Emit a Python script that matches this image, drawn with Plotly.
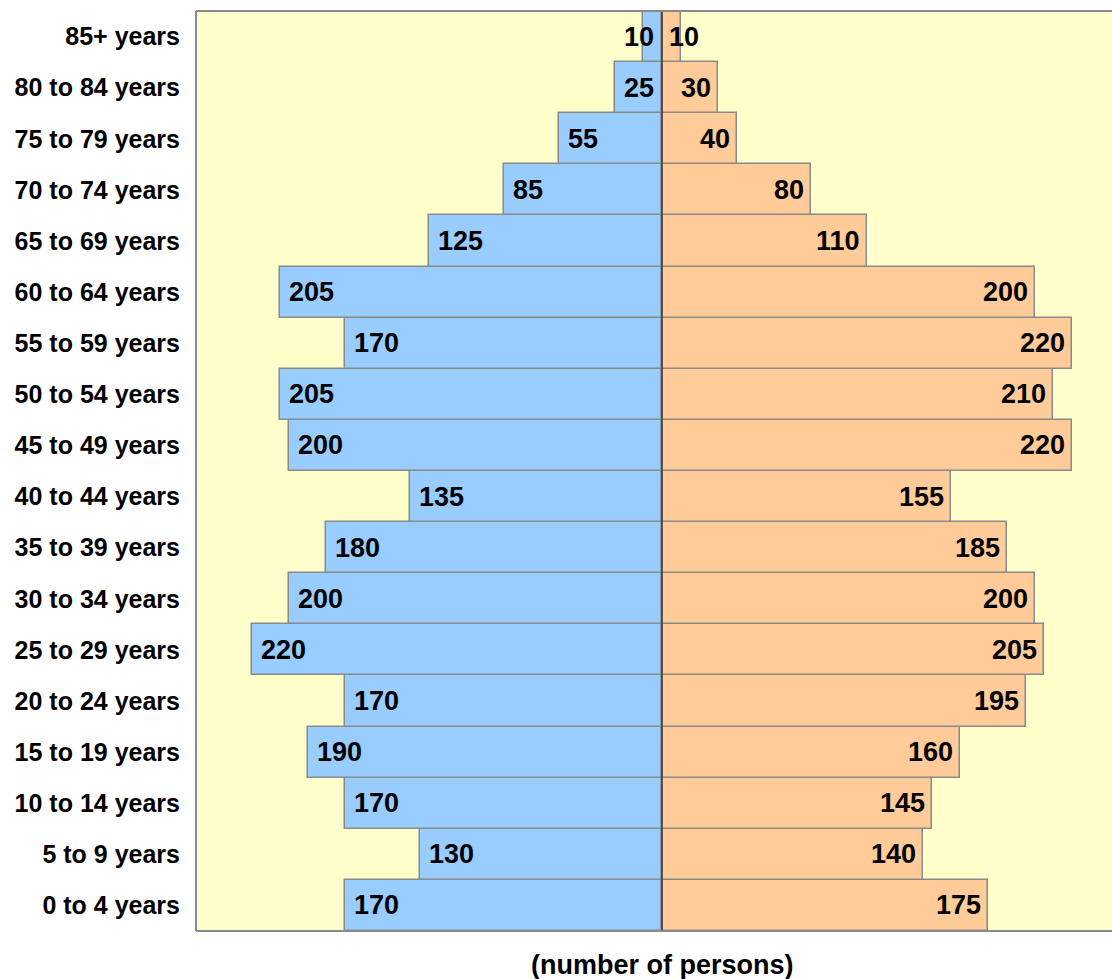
import plotly.graph_objects as go

age_groups = ["0 to 4 years", "5 to 9 years", "10 to 14 years", "15 to 19 years",
              "20 to 24 years", "25 to 29 years", "30 to 34 years", "35 to 39 years",
              "40 to 44 years", "45 to 49 years", "50 to 54 years", "55 to 59 years",
              "60 to 64 years", "65 to 69 years", "70 to 74 years", "75 to 79 years",
              "80 to 84 years", "85+ years"]
male = [170, 130, 170, 190, 170, 220, 200, 180, 135, 200, 205, 170, 205, 125, 85, 55, 25, 10]
female = [175, 140, 145, 160, 195, 205, 200, 185, 155, 220, 210, 220, 200, 110, 80, 40, 30, 10]
x_title = "(number of persons)"

FONT = "Liberation Sans"
OUTLINE = dict(color="#8a8a8a", width=1.5)

fig = go.Figure()
fig.add_trace(go.Bar(y=age_groups, x=[-v for v in male], orientation="h",
                     marker=dict(color="#99ccff", line=OUTLINE), name="Male",
                     hovertext=[str(v) for v in male], hoverinfo="y+text"))
fig.add_trace(go.Bar(y=age_groups, x=female, orientation="h",
                     marker=dict(color="#ffcc99", line=OUTLINE), name="Female",
                     hoverinfo="y+x"))

label_font = dict(family=FONT, size=27, color="black", weight="bold")
annotations = []
for cat, m, f in zip(age_groups, male, female):
    if m < 20:
        annotations.append(dict(x=0, y=cat, xref="x", yref="y", text=str(m),
                                xanchor="right", xshift=-6, showarrow=False, font=label_font))
    else:
        annotations.append(dict(x=-m, y=cat, xref="x", yref="y", text=str(m),
                                xanchor="left", xshift=7, showarrow=False, font=label_font))
    if f < 20:
        annotations.append(dict(x=0, y=cat, xref="x", yref="y", text=str(f),
                                xanchor="left", xshift=5, showarrow=False, font=label_font))
    else:
        annotations.append(dict(x=f, y=cat, xref="x", yref="y", text=str(f),
                                xanchor="right", xshift=-5, showarrow=False, font=label_font))

annotations.append(dict(x=0, y=-0.037, xref="x", yref="paper", text=x_title,
                        xanchor="center", yanchor="middle", showarrow=False,
                        font=dict(family=FONT, size=27, color="black", weight="bold")))

shapes = [
    dict(type="line", xref="x", yref="paper", x0=0, x1=0, y0=0, y1=1,
         line=dict(color="#333333", width=1.5), layer="above"),
    dict(type="line", xref="paper", yref="paper", x0=0, x1=0, y0=0, y1=1,
         line=dict(color="#8a8a8a", width=2), layer="above"),
    dict(type="line", xref="paper", yref="paper", x0=0, x1=1, y0=1, y1=1,
         line=dict(color="#8a8a8a", width=2), layer="above"),
    dict(type="line", xref="paper", yref="paper", x0=0, x1=1, y0=0, y1=0,
         line=dict(color="#8a8a8a", width=2), layer="above"),
]

fig.update_layout(
    width=1112, height=979,
    margin=dict(l=196, r=0, t=11, b=48),
    paper_bgcolor="white", plot_bgcolor="#ffffcc",
    barmode="overlay", bargap=0, showlegend=False,
    annotations=annotations, shapes=shapes,
    xaxis=dict(range=[-250, 241.4], showticklabels=False, showgrid=False,
               zeroline=False, showline=False, ticks="", fixedrange=True),
    yaxis=dict(type="category", categoryorder="array", categoryarray=age_groups,
               showgrid=False, zeroline=False, showline=False, ticks="",
               ticklabelstandoff=15,
               tickfont=dict(family=FONT, size=25, color="black", weight="bold")),
)

fig.write_html("out.html", config={"displayModeBar": False},
               post_script="document.body.style.margin='0px';document.body.style.overflow='hidden';")
